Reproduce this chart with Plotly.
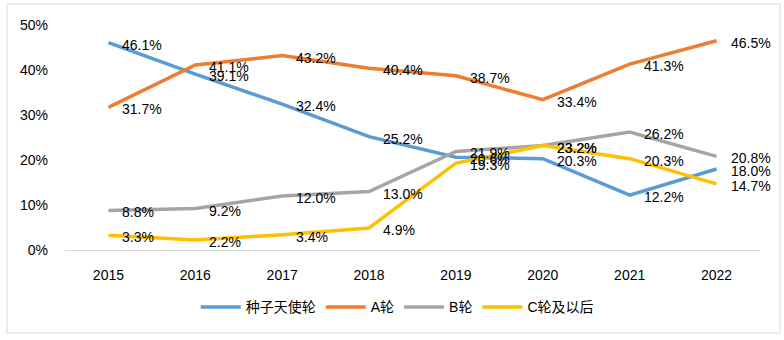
import plotly.graph_objects as go

years = ["2015", "2016", "2017", "2018", "2019", "2020", "2021", "2022"]
seed = [46.1, 39.1, 32.4, 25.2, 20.6, 20.3, 12.2, 18.0]
round_a = [31.7, 41.1, 43.2, 40.4, 38.7, 33.4, 41.3, 46.5]
round_b = [8.8, 9.2, 12.0, 13.0, 21.9, 23.2, 26.2, 20.8]
round_c = [3.3, 2.2, 3.4, 4.9, 19.3, 23.2, 20.3, 14.7]
names = ["种子天使轮", "A轮", "B轮", "C轮及以后"]
colors = ["#5B9BD5", "#ED7D31", "#A5A5A5", "#FFC000"]

FONT = "Liberation Sans, Arial, Noto Sans CJK SC, sans-serif"

fig = go.Figure()
annotations = []
for name, vals, col in zip(names, [seed, round_a, round_b, round_c], colors):
    fig.add_trace(go.Scatter(
        x=years, y=vals, name=name, mode="lines",
        line=dict(color=col, width=3.5),
        cliponaxis=False,
    ))
    for i, v in enumerate(vals):
        # category axis: annotation x is the category index
        annotations.append(dict(
            x=i, y=v, xref="x", yref="y", text=f"{v:.1f}%", showarrow=False,
            xanchor="left", yanchor="middle", xshift=12, yshift=-2,
            font=dict(family=FONT, size=14, color="#000000"),
        ))

fig.update_layout(
    width=784, height=340,
    margin=dict(l=65, r=24, t=25, b=90),
    paper_bgcolor="white", plot_bgcolor="white",
    font=dict(family=FONT, size=14, color="#000000"),
    showlegend=True,
    legend=dict(orientation="h", x=0.478, xanchor="center", y=-0.255, yanchor="middle",
                font=dict(family=FONT, size=14, color="#000000"),
                itemwidth=40, tracegroupgap=0),
    xaxis=dict(type="category", range=[-0.5, 7.5], showgrid=False, showline=True,
               linecolor="#D9D9D9", linewidth=1,
               ticks="", ticklabelstandoff=12, zeroline=False, fixedrange=True),
    yaxis=dict(range=[0, 50], dtick=10, ticksuffix="%", showgrid=False, showline=False,
               zeroline=False, ticks="", ticklabelstandoff=16, fixedrange=True),
    annotations=annotations,
    shapes=[dict(type="rect", xref="paper", yref="paper",
                 x0=-0.0835, x1=1.0288, y0=-0.3689, y1=1.0933,
                 line=dict(color="#D9D9D9", width=1), fillcolor="rgba(0,0,0,0)", layer="below")],
)

fig.write_html("out.html")
